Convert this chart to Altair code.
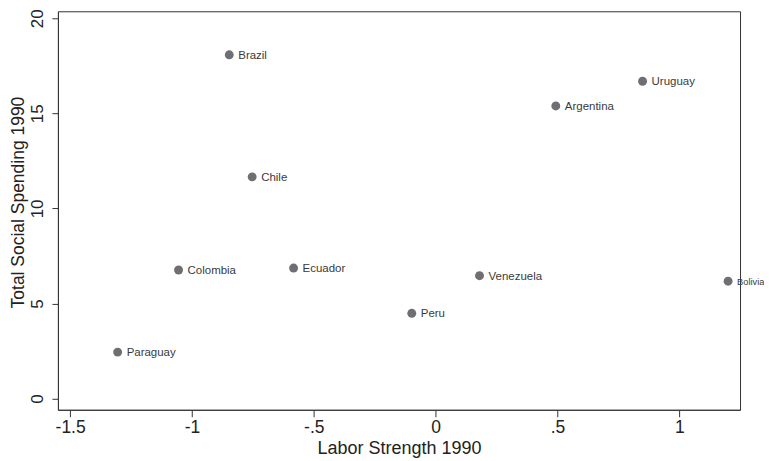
import altair as alt
import pandas as pd

countries = ["Brazil", "Chile", "Colombia", "Ecuador", "Paraguay", "Peru",
             "Venezuela", "Argentina", "Uruguay", "Bolivia"]
labor_strength = [-0.847, -0.753, -1.055, -0.583, -1.305, -0.098,
                  0.18, 0.493, 0.849, 1.2]
social_spending = [18.08, 11.66, 6.76, 6.86, 2.44, 4.48,
                   6.46, 15.39, 16.69, 6.17]

x_ticks = [-1.5, -1, -0.5, 0, 0.5, 1]
x_tick_labels = ["-1.5", "-1", "-.5", "0", ".5", "1"]
y_ticks = [0, 5, 10, 15, 20]

df = pd.DataFrame({"country": countries, "labor": labor_strength,
                   "spending": social_spending})

x_label_expr = " : ".join(
    [f"datum.value == {v} ? '{l}'" for v, l in zip(x_ticks, x_tick_labels)]
) + " : datum.label"

FONT = "Liberation Sans"

x_enc = alt.X(
    "labor:Q",
    scale=alt.Scale(domain=[-1.550, 1.249], nice=False, zero=False),
    axis=alt.Axis(
        values=x_ticks, labelExpr=x_label_expr, title="Labor Strength 1990",
        tickSize=7, labelPadding=2, labelFontSize=17.5, titleFontSize=18,
        titleY=44, titleBaseline="alphabetic",
    ),
)
y_enc = alt.Y(
    "spending:Q",
    scale=alt.Scale(domain=[-0.594, 20.37], nice=False, zero=False),
    axis=alt.Axis(
        values=y_ticks, title="Total Social Spending 1990",
        tickSize=6, labelAngle=270, labelAlign="center",
        labelBaseline="alphabetic", labelPadding=9,
        labelFontSize=17, titleFontSize=17.5,
        titleAngle=270, titleAlign="center", titleBaseline="alphabetic",
        titleX=-34, titleY=191,
    ),
)

base = alt.Chart(df)
points = base.mark_circle(size=80, color="#6f6f73", opacity=1).encode(
    x=x_enc, y=y_enc
)
labels = base.mark_text(
    align="left", baseline="middle", dx=9, dy=1,
    font=FONT, color="#3a3a3a",
).encode(
    x=x_enc, y=y_enc, text="country:N",
    size=alt.condition(alt.datum.country == "Bolivia",
                       alt.value(9.3), alt.value(11.5)),
)

chart = (
    alt.layer(points, labels)
    .properties(
        width=683, height=399, autosize="none",
        padding={"left": 50, "top": 3, "right": 24, "bottom": 51},
        background="white",
    )
    .configure_view(stroke="#333333", strokeWidth=1)
    .configure_axis(
        grid=False, domainColor="#333333", tickColor="#333333",
        labelColor="#222222", titleColor="#222222", labelFont=FONT,
        titleFont=FONT, titleFontWeight="normal", domainWidth=1, tickWidth=1,
    )
)

chart.save("out.html", embed_options={"renderer": "svg", "actions": False})
